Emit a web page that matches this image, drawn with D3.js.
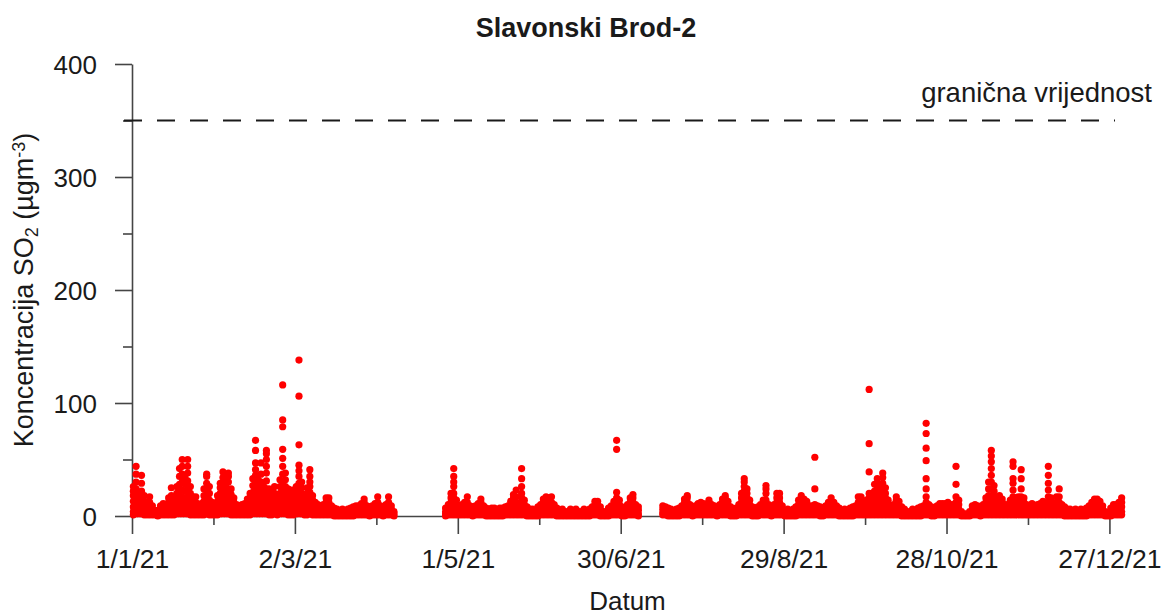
<!DOCTYPE html>
<html lang="en">
<head>
<meta charset="UTF-8">
<title>Slavonski Brod-2</title>
<script src="https://d3js.org/d3.v7.min.js"></script>
<style>
  body { margin: 0; background: #fff; }
  text { font-family: "Liberation Sans", Arial, sans-serif; fill: #1a1a1a; }
</style>
</head>
<body>
<div id="chart"></div>
<script>
// hourly SO2 values, one string per day ("" = no data)
const jan = ["1,4,8,13,18,22,26","2,5,9,14,19,24,30,37,44","2,5,9,14,20","2,6,10,16,22,29,36","1,4,8,13,18","1,4,8,12","1,4,8,12,17","1,3,6,9","1,3,5","0,2,5","1,3,6,9","1,4,7,11","1,4,8,10","1,4,8,12,16","1,4,8,13,18,25","1,4,8,12,16","2,6,10,15,20,26","2,6,11,16,22,28,35,42","2,6,11,17,23,30,37,44,50","2,6,10,15,22,28,34","2,6,11,17,24,31,38,44,50","1,5,9,14,20,26","1,4,8,13,17","1,4,8,12,17","1,3,6,10","1,4,7,11","1,4,8,13,18,24","2,6,11,17,23,29,35,37","1,5,9,14,20,26","1,4,8,12","1,3,6,10"];
const feb = ["1,4,8,13,18","2,6,10,15,20,25,29","2,6,11,17,23,29,34,39","2,6,10,15,21,27,32","2,6,11,17,23,30,35,38","1,5,9,14,19,24","1,4,8,12,16","1,3,6,10","1,3,6,9","1,3,6,10","1,4,7,11","1,4,8,12,15","1,4,8,12,16,20","2,6,10,15,21,27,33","2,6,11,17,23,30,36,41,47,58,67","2,6,10,15,20,26,32","2,6,11,17,23,30,37,47","2,6,10,15,20,26","2,6,11,17,24,31,38,44,50,55,58","1,5,9,14,19,24","1,4,8,13,18,22","2,5,9,14,20,26","1,4,8,12,17","2,6,10,15,20,26,32","2,6,11,17,23,30,37,44,51,59,79,85,116","2,6,10,15,20,26,32,38","1,5,9,14,19,24","1,4,8,13,18,23"];
const mar = ["1,5,9,14,19,23","2,6,10,15,20,26","2,6,11,17,23,29,35,40,45,63,106,138","2,6,10,15,20,25,30","1,5,9,14,19","1,5,9,14,20,25","2,6,10,15,21,26,30,35,41","1,5,9,14,18","1,4,8,12","1,4,7,10","1,3,6,9","1,3,6,10","1,4,8,12,16","1,4,8,12,16","1,3,6,9","0,2,5,7","0,2,4,6","0,2,4","0,2,4,6","0,2,4","0,2,4,6","0,2,4,7","0,2,5,8","1,3,6,9","1,3,6,9","1,4,7,11","1,4,8,12,15","1,3,6,9","0,2,5,8","1,3,6,9","1,4,7,11"];
const apr = ["1,4,8,12,17","1,3,6,9","0,2,5,8","1,3,6,10","1,4,8,12,17","1,3,6,9","0,2,4","","","","","","","","","","","","","","","","","","","0,2,4,7","1,3,6,10","1,4,8,12,16,20","1,4,8,12,16,20,26,30,35,42","1,3,6,10,14"];
const may = ["1,3,6,9","1,3,6,10","1,4,8,12","1,4,8,12,17","1,3,6,9","0,2,5,8","1,3,6,9","1,4,7,11","1,4,8,12,15","1,3,6,9","0,2,5,7","0,2,4,6","0,2,4,7","0,2,5,7","0,2,4","0,2,5,7","0,2,5,7","1,3,5,8","1,3,6,9","1,3,6,10,13","1,4,8,12,16,19","1,4,8,12,17,23","1,3,6,10","1,4,8,12,16,20,26,33,42","1,3,6,10,14","0,2,5,8","0,2,4,6","0,2,4,6","0,2,4","0,2,5,8","1,3,6,10"];
const jun = ["1,4,8,12,15","1,4,8,12,17","1,4,8,12,16","1,4,8,12,17","1,3,6,10","0,2,5,7","0,2,4","0,2,4,6","0,2,4","0,2,4","0,2,4,6","0,2,4","0,2,4,6","0,2,4","0,2,4","0,2,4,6","0,2,4","0,2,4,6","1,3,5,8","1,3,6,10,13","1,3,6,10,13","0,2,5,8","0,2,4","0,2,4","0,2,5,7","1,3,6,9","1,3,6,10,13","1,4,8,12,16,21,59,67","1,3,6,10,14","0,2,5,8"];
const jul = ["0,2,4,7","1,3,6,10","1,4,8,12,16","1,4,8,12,16,19","1,3,6,10","0,2,5,8","","","","","","","","","1,3,6,9","1,3,6,8","0,2,5,7","0,2,4,6","0,2,4","0,2,4,6","0,2,5,7","1,3,6,9","1,4,8,12,15","1,4,8,12,16,18","1,3,6,10","0,2,5,8","1,3,6,9","1,4,7,11","1,4,8,12","1,4,8,11","1,3,6,10"];
const aug = ["1,4,8,12,14","1,3,6,10","1,3,6,9","0,2,5,8","1,3,6,10","1,4,8,12,15","1,4,8,12,16,18","1,3,6,10,13","0,2,5,8","0,2,4,6","0,2,5,7","1,3,6,10","1,4,8,12,16,20","1,4,8,12,17,22,26,30,33","1,4,8,12,16,20,24","1,3,6,10,14","0,2,5,8","0,2,4,7","0,2,5,8","1,3,6,10","1,4,7,11,14","1,4,8,14,20,24,27","1,3,6,10","0,2,5,8","1,3,6,10","1,4,8,12,16,20","1,4,8,12,16,20","1,3,6,9","0,2,4","0,2,4,6","0,2,4"];
const sep = ["0,2,4,6","0,2,5,8","1,3,6,10,14","1,4,8,12,16,18","1,4,8,12,15","1,3,6,10,13","1,3,6,9","1,3,6,9","1,3,6,10,24,52","1,3,6,9","0,2,5,8","0,2,5,7","1,3,6,9","1,4,8,12","1,4,8,12,16","1,4,8,12","1,3,6,9","0,2,5,7","0,2,4","0,2,4,6","0,2,4","0,2,5,7","0,2,5,8","1,3,6,9","1,4,8,12,17","1,4,8,13,17","1,3,6,10","1,3,6,10,14","1,4,8,12,16,20,39,64,112","1,4,8,12,16,20"];
const oct = ["1,4,8,12,17,22,28","1,4,8,13,18,24,29,33","1,4,8,12,17,22,27","1,4,8,13,18,24,29,34,38","1,4,8,12,16,20,25","1,3,6,10,14","1,3,6,9","1,3,6,10","1,4,8,11,14,17","1,3,6,10,13","0,2,5,8","0,2,4,6","0,2,4","0,2,4","0,2,4,6","0,2,4","0,2,5,7","0,2,5,8","1,3,6,9","1,4,8,12,17,24,33,49,60,73,82","1,3,6,10","0,2,5,8","0,2,5,7","1,3,6,9","1,4,8,11","1,4,8,11","1,4,8,11","1,4,8,12","1,3,6,10","1,3,6,10","1,4,8,12,17,28,44"];
const nov = ["1,3,6,10,14","0,2,4","0,1,2","0,1,2","0,2,4","1,3,6,9","1,3,6,10","1,3,6,9","0,2,5,8","1,3,6,10","1,4,8,12,16","1,4,8,13,18,24,30","1,4,8,13,18,24,30,36,42,48,53,58","1,4,8,12,17,22,27","1,4,8,12,16","1,4,8,12,16,18","1,4,8,12,15","1,3,6,10","1,3,6,10","1,3,6,10,14","1,4,8,12,17,23,29,33,44,48","1,4,8,12,16","1,4,8,12,17","1,4,8,12,17,24,33,41","1,4,8,12,16","1,3,6,10","1,3,6,9","1,4,8,11","1,3,6,9","1,3,6,10"];
const dec = ["1,4,8,11","1,4,8,12,13","1,3,6,10","1,4,8,12,17,23,29,36,44","1,4,8,12,16","1,3,6,10","1,4,8,12,17","1,4,8,12,17,24","1,3,6,10","0,2,5,8","0,2,4,6","0,2,4,6","0,2,4","0,2,4,6","0,2,4","0,2,4,6","0,2,4","0,2,5,7","1,3,6,9","1,4,8,12","1,4,8,12,15","1,4,8,12,15","1,4,8,13","1,3,6,9","0,2,4","0,1,3","0,2,4,7","1,3,6,10","1,4,8,10","1,4,8,12","1,4,8,12,16"];
const months = [jan, feb, mar, apr, may, jun, jul, aug, sep, oct, nov, dec];

const limitValue = 350;
const limitLabel = "granična vrijednost";
const yTicks = [0, 100, 200, 300, 400];
const yMinorTicks = [50, 150, 250, 350];
const xTickLabels = ["1/1/21", "2/3/21", "1/5/21", "30/6/21", "29/8/21", "28/10/21", "27/12/21"];
const xMinorLabels = ["31/1/21", "1/4/21", "31/5/21", "30/7/21", "28/9/21", "27/11/21"];

const W = 1162, H = 615;
const mLeft = 132, mRight = 1123, mTop = 64, mBottom = 516;

const parse = d3.timeParse("%d/%m/%y");
const fmt = d3.timeFormat("%-d/%-m/%y");

const points = [];
months.forEach((days, m) => {
    days.forEach((s, i) => {
        if (!s) return;
        s.split(",").forEach(v => points.push({date: new Date(2021, m, i + 1, 12), value: +v}));
    });
});

const x = d3.scaleTime().domain([new Date(2021, 0, 1), new Date(2022, 0, 1)]).range([mLeft, mRight]);
const y = d3.scaleLinear().domain([0, 400]).range([mBottom, mTop]);

const svg = d3.select('#chart').append('svg')
    .attr('width', W)
    .attr('height', H);

const axisColor = '#454545';

// y axis
svg.append('g')
    .attr('transform', `translate(${mLeft},0)`)
    .call(d3.axisLeft(y).tickValues(yMinorTicks).tickSize(9).tickSizeOuter(0).tickFormat(''))
    .call(g => g.select('.domain').remove());
svg.append('g')
    .attr('transform', `translate(${mLeft},0)`)
    .call(d3.axisLeft(y).tickValues(yTicks).tickSize(17).tickSizeOuter(0).tickPadding(18))
    .call(g => g.selectAll('text').style('font-size', '26px').attr('dy', '0.36em'));

// x axis
svg.append('g')
    .attr('transform', `translate(0,${mBottom})`)
    .call(d3.axisBottom(x).tickValues(xMinorLabels.map(parse)).tickSize(9).tickSizeOuter(0).tickFormat(''))
    .call(g => g.select('.domain').remove());
svg.append('g')
    .attr('transform', `translate(0,${mBottom})`)
    .call(d3.axisBottom(x).tickValues(xTickLabels.map(parse)).tickSize(18).tickSizeOuter(0).tickPadding(15).tickFormat(fmt))
    .call(g => g.selectAll('text').style('font-size', '26.5px'));

svg.selectAll('.domain, .tick line').attr('stroke', axisColor).attr('stroke-width', 1.6);
svg.selectAll('.tick text').attr('fill', '#1a1a1a');

// limit line
svg.append('line')
    .attr('x1', x.range()[0] - 8)
    .attr('x2', x.range()[1] - 8)
    .attr('y1', y(limitValue))
    .attr('y2', y(limitValue))
    .attr('stroke', '#1a1a1a')
    .attr('stroke-width', 1.8)
    .attr('stroke-dasharray', '18,15');

svg.append('text')
    .attr('x', x.range()[1] + 29)
    .attr('y', y(limitValue) - 19)
    .attr('text-anchor', 'end')
    .style('font-size', '27.5px')
    .text(limitLabel);

// points
svg.append('g')
    .selectAll('circle')
    .data(points)
    .join('circle')
    .attr('cx', d => x(d.date))
    .attr('cy', d => y(d.value))
    .attr('r', 3.6)
    .attr('fill', '#ff0000');

// title and labels
svg.append('text')
    .attr('x', 586)
    .attr('y', 37)
    .attr('text-anchor', 'middle')
    .style('font-size', '27px')
    .style('font-weight', 'bold')
    .text('Slavonski Brod-2');

svg.append('text')
    .attr('x', (mLeft + mRight) / 2)
    .attr('y', 610)
    .attr('text-anchor', 'middle')
    .style('font-size', '26px')
    .text('Datum');

const yl = svg.append('text')
    .attr('transform', `translate(33,${(mTop + mBottom) / 2}) rotate(-90)`)
    .attr('text-anchor', 'middle')
    .style('font-size', '27px');
yl.append('tspan').text('Koncentracija SO');
yl.append('tspan').attr('baseline-shift', '-25%').style('font-size', '18px').text('2');
yl.append('tspan').text(' (µgm');
yl.append('tspan').attr('baseline-shift', '45%').style('font-size', '18px').text('-3');
yl.append('tspan').text(')');
</script>
</body>
</html>
